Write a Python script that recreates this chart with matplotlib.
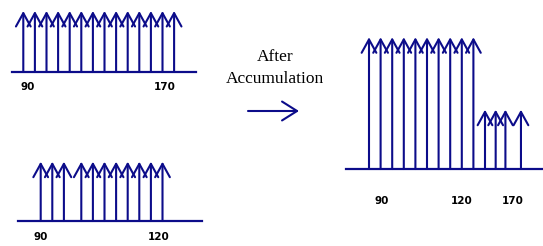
import matplotlib
matplotlib.use("Agg")
import matplotlib.pyplot as plt
from matplotlib.patches import FancyArrowPatch

# channel positions (in peak-spacing units) and relative intensities
top_pos = [0, 1, 2, 3, 4, 5, 6, 7, 8, 9, 10, 11, 12, 13]
top_h = [1, 1, 1, 1, 1, 1, 1, 1, 1, 1, 1, 1, 1, 1]
top_labels = ["90", "170"]
top_label_pos = [0.4, 12.2]

bot_pos = [0, 1, 2, 3.5, 4.5, 5.5, 6.5, 7.5, 8.5, 9.5, 10.5]
bot_h = [1, 1, 1, 1, 1, 1, 1, 1, 1, 1, 1]
bot_labels = ["90", "120"]
bot_label_pos = [0.03, 10.2]

acc_pos = [0, 1, 2, 3, 4, 5, 6, 7, 8, 9, 10, 10.92, 11.76, 13.1]
acc_h = [1, 1, 1, 1, 1, 1, 1, 1, 1, 1, 0.45, 0.45, 0.45, 0.45]
acc_labels = ["90", "120", "170"]
acc_label_pos = [1.1, 8.0, 12.4]

W, H = 543, 246
navy = "#0c0c8a"

fig = plt.figure(figsize=(W / 100, H / 100), dpi=100)


def panel(left, right, base, unit, ch0, step, pos, h, labels, lpos, ldrop):
    ax = fig.add_axes([left / W, (H - base) / H, (right - left) / W, unit * 1.2 / H])
    ax.set_xlim((left - ch0) / step, (right - ch0) / step)
    ax.set_ylim(0, 1.2)
    ax.axis("off")
    ax.axhline(0, color=navy, lw=1.6, clip_on=False)
    for x, y in zip(pos, h):
        ax.annotate("", xy=(x, y), xytext=(x, 0),
                    arrowprops=dict(arrowstyle="->,head_length=0.96,head_width=0.53",
                                    color=navy, lw=1.5, shrinkA=0, shrinkB=0),
                    annotation_clip=False)
    for x, s in zip(lpos, labels):
        ax.annotate(s, xy=(x, 0), xytext=(0, -ldrop * 0.72), textcoords="offset points",
                    ha="center", va="center", fontsize=7.5, fontweight="bold",
                    color="black", annotation_clip=False)
    return ax


panel(12, 196, 72, 61, 23.3, 11.6, top_pos, top_h, top_labels, top_label_pos, 14.5)
panel(18, 202, 221, 59.3, 40.7, 11.6, bot_pos, bot_h, bot_labels, bot_label_pos, 16.5)
panel(346, 543, 169, 131.7, 369, 11.6, acc_pos, acc_h, acc_labels, acc_label_pos, 32)

# middle caption and arrow
fig.text(275 / W, 1 - 57 / H, "After", ha="center", va="center",
         fontsize=12.5, family="Liberation Serif")
fig.text(275 / W, 1 - 79 / H, "Accumulation", ha="center", va="center",
         fontsize=12.5, family="Liberation Serif")
fig.patches.append(FancyArrowPatch(
    (248 / W, 1 - 111 / H), (299 / W, 1 - 111 / H), transform=fig.transFigure,
    arrowstyle="->,head_length=1.08,head_width=0.68", mutation_scale=10,
    color=navy, lw=1.5, shrinkA=0, shrinkB=0))

fig.savefig("out.png", dpi=100)
